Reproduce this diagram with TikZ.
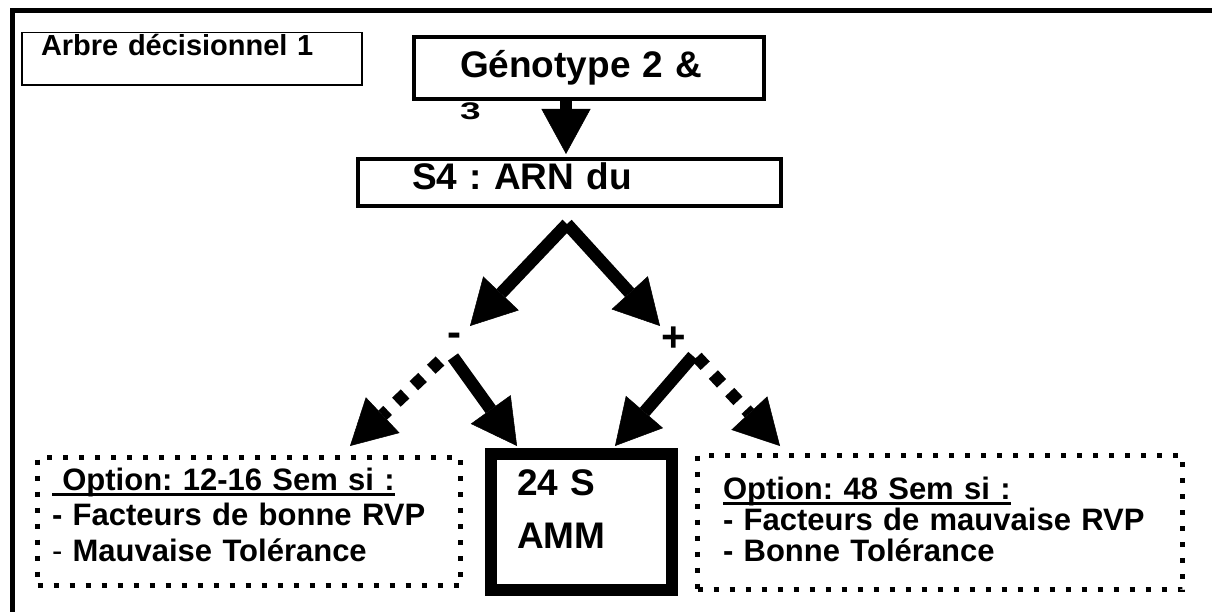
\documentclass[tikz,border=0pt]{standalone}
\usepackage{fontspec}
\setmainfont{Liberation Sans}
\usetikzlibrary{arrows.meta}
\frenchspacing

% underline drawn as a rule, thicker than \underline
\newsavebox\boxsoul
\newcommand{\souligne}[1]{\sbox\boxsoul{#1}\rlap{\rule[-5.5pt]{\wd\boxsoul}{3pt}}\usebox\boxsoul}

\tikzset{
  petit/.style={font=\bfseries\fontsize{29}{33}\selectfont},
  grand/.style={font=\bfseries\fontsize{37}{53}\selectfont},
  signe/.style={inner sep=0pt, font=\bfseries\fontsize{42}{42}\selectfont},
  cadre/.style={draw, line width=4pt, inner sep=0pt, align=left},
  optbox/.style={draw, line width=5pt, dash pattern=on 5pt off 11pt, inner ysep=0pt, align=left},
  grosse/.style={line width=12.5pt, -{Triangle[length=45pt,width=49pt,line width=0.5pt]}},
  pointill/.style={grosse, dash pattern=on 12pt off 12pt},
}

\begin{document}
\begin{tikzpicture}[x=1pt,y=-1pt]
  \useasboundingbox (0,0) rectangle (1212,612);
  \clip (0,0) rectangle (1212,612);
  \fill[white] (0,0) rectangle (1212,612);

  % outer frame, only left and top edges show
  \draw[line width=5pt] (12,640) -- (12,11) -- (1240,11);

  \node[draw, line width=1.5pt, inner xsep=19pt, inner ysep=0pt, minimum height=52.5pt,
        text width=302pt, align=left, petit, text height=21pt, text depth=28pt]
        (titre) at (192,59) {Arbre décisionnel 1};

  \node[cadre, grand, minimum width=350pt, minimum height=62pt, inner xsep=46pt,
        text width=258pt, text height=27pt, text depth=8pt]
        (geno) at (589,68) {Génotype 2 \&};
  \node[grand, anchor=base west, inner sep=0pt] (trois) at (460,120) {\scalebox{1}[0.65]{3}};

  \node[cadre, grand, minimum width=423pt, minimum height=47pt, inner xsep=54pt,
        text width=315pt, text height=27pt, text depth=12pt]
        (s4) at (569.5,182.5) {S4 : ARN du};

  \node[signe] (moins) at (454,340) {-};
  \node[signe] (plus) at (674,339) {+};

  \node[optbox, minimum width=423pt, minimum height=128pt, inner xsep=14.5pt,
        text width=394pt, font=\bfseries\fontsize{31}{35.5}\selectfont,
        text height=23pt, text depth=86pt]
        (optA) at (249,521.5)
        {\souligne{\ Option: 12-16 Sem si :}\\
         - Facteurs de bonne RVP\\
         {\mdseries -} Mauvaise Tolérance};

  \node[draw, line width=12pt, inner sep=0pt, minimum width=181pt, minimum height=136pt,
        inner xsep=26pt, text width=129pt, align=left, grand, text height=27pt, text depth=81pt]
        (amm) at (581.5,522) {24 S\\AMM};

  \node[optbox, minimum width=485pt, minimum height=134pt, inner xsep=25.5pt,
        text width=434pt, font=\bfseries\fontsize{31}{31}\selectfont,
        text height=23pt, text depth=70pt]
        (optB) at (940,522.5)
        {\souligne{Option: 48 Sem si :}\\
         - Facteurs de mauvaise RVP\\
         - Bonne Tolérance};

  % arrow ends
  \coordinate (fourche) at ([shift={(-2.5,16)}]s4.south);
  \coordinate (pM) at (470,326);
  \coordinate (pP) at (660,326);
  \coordinate (bA) at (350,446);
  \coordinate (bB) at (517,446);
  \coordinate (bC) at (615,446);
  \coordinate (bD) at (780,446);

  \draw[grosse] ([xshift=-23pt]geno.south) -- ([shift={(-3.5,-3)}]s4.north);
  \draw[grosse] (fourche) -- (pM);
  \draw[grosse] (fourche) -- (pP);

  \draw[pointill] ([shift={(-14,21)}]moins.center) -- (bA);
  \draw[grosse] ([shift={(-1,17)}]moins.center) -- (bB);
  \draw[grosse] ([shift={(19,17)}]plus.center) -- (bC);
  \draw[pointill] ([shift={(23,18)}]plus.center) -- (bD);
\end{tikzpicture}
\end{document}
